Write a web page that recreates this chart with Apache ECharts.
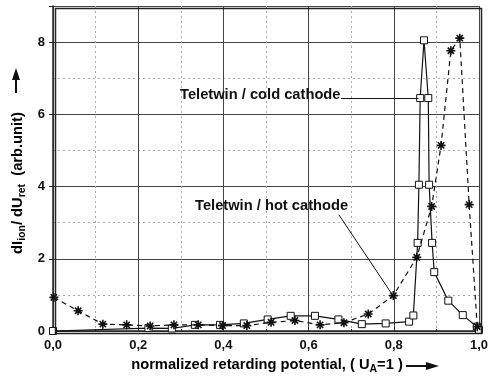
<!DOCTYPE html>
<html>
<head>
<meta charset="utf-8">
<script src="https://cdn.jsdelivr.net/npm/echarts@6/dist/echarts.min.js"></script>
<style>
  html, body { margin: 0; padding: 0; background: #fff; }
  #chart { width: 491px; height: 377px; }
</style>
</head>
<body>
<div id="chart"></div>
<script>
// cold cathode (open squares, solid line)
const coldX = [0.0, 0.224, 0.279, 0.333, 0.392, 0.448, 0.504, 0.558, 0.615, 0.670, 0.725, 0.781, 0.836, 0.846, 0.856, 0.859, 0.862, 0.871, 0.881, 0.883, 0.890, 0.895, 0.928, 0.962, 0.995, 1.0];
const coldY = [0.0, 0.08, 0.07, 0.17, 0.17, 0.21, 0.32, 0.42, 0.42, 0.32, 0.19, 0.21, 0.26, 0.43, 2.44, 4.05, 6.45, 8.05, 6.45, 4.05, 2.44, 1.63, 0.84, 0.44, 0.12, 0.03];
// hot cathode (asterisks, dashed line)
const hotX = [0.002, 0.059, 0.117, 0.173, 0.228, 0.284, 0.341, 0.398, 0.455, 0.512, 0.568, 0.627, 0.683, 0.740, 0.799, 0.854, 0.889, 0.911, 0.934, 0.955, 0.977, 0.996];
const hotY = [0.93, 0.56, 0.19, 0.17, 0.14, 0.17, 0.17, 0.15, 0.15, 0.24, 0.29, 0.17, 0.23, 0.47, 0.98, 2.04, 3.45, 5.14, 7.76, 8.11, 3.5, 0.12];
const xTicks = [0, 0.2, 0.4, 0.6, 0.8, 1.0];
const yTicks = [0, 2, 4, 6, 8];

const FONT = '"Liberation Sans", Arial, sans-serif';
const star = 'path://M0,5L10,5M5,0L5,10M1.5,1.5L8.5,8.5M8.5,1.5L1.5,8.5';

const chart = echarts.init(document.getElementById('chart'));
const option = {
    animation: false,
    backgroundColor: '#fff',
    textStyle: { fontFamily: FONT },
    grid: { left: 53, right: 12, top: 6, bottom: 46 },
    xAxis: {
        type: 'value',
        min: 0,
        max: 1,
        interval: 0.2,
        axisLine: { show: true, onZero: false, lineStyle: { color: '#222', width: 1.5 } },
        axisTick: { show: true, inside: true, length: 4, lineStyle: { color: '#222' } },
        minorTick: { show: true, splitNumber: 2, length: 2, lineStyle: { color: '#222' } },
        splitLine: { show: true, lineStyle: { color: '#444', width: 1 } },
        minorSplitLine: { show: true, lineStyle: { color: '#aaa', type: [2, 3] } },
        axisLabel: {
            color: '#111', fontSize: 13, fontWeight: 'bold', margin: 8,
            formatter: v => xTicks.includes(Math.round(v * 10) / 10) ? v.toFixed(1).replace('.', ',') : ''
        }
    },
    yAxis: {
        type: 'value',
        min: 0,
        max: 9,
        interval: 2,
        axisLine: { show: true, lineStyle: { color: '#222', width: 1.5 } },
        axisTick: { show: true, length: 4, lineStyle: { color: '#222' } },
        minorTick: { show: false, splitNumber: 2 },
        splitLine: { show: true, lineStyle: { color: '#444', width: 1 } },
        minorSplitLine: { show: true, lineStyle: { color: '#aaa', type: [2, 3] } },
        axisLabel: {
            color: '#111', fontSize: 13, fontWeight: 'bold', margin: 8,
            formatter: v => yTicks.includes(v) ? String(v) : ''
        }
    },
    series: [
        {
            name: 'Teletwin / cold cathode',
            type: 'line',
            data: coldX.map((x, i) => [x, coldY[i]]),
            symbol: 'rect',
            symbolSize: 7,
            lineStyle: { color: '#111', width: 1.2 },
            itemStyle: { color: '#fff', borderColor: '#111', borderWidth: 1 },
            z: 3,
            markLine: {
                silent: true,
                symbol: 'none',
                label: { show: false },
                lineStyle: { color: '#111', width: 1, type: 'solid' },
                data: [
                    [{ coord: [0.676, 6.45] }, { coord: [0.858, 6.45] }],
                    [{ coord: [0.671, 3.22] }, { coord: [0.797, 1.0] }]
                ]
            }
        },
        {
            name: 'Teletwin / hot cathode',
            type: 'line',
            data: hotX.map((x, i) => [x, hotY[i]]),
            symbol: star,
            symbolSize: 9,
            lineStyle: { color: '#111', width: 1.2, type: [5, 4] },
            itemStyle: { color: '#111', borderColor: '#111', borderWidth: 1.6 },
            z: 4
        }
    ],
    graphic: [
        {
            type: 'rect', left: 53, top: 6, z: 10, silent: true,
            shape: { width: 426, height: 325 },
            style: { fill: 'none', stroke: '#222', lineWidth: 1.5 }
        },
        {
            type: 'text', x: 180, y: 95, z: 20,
            style: { text: 'Teletwin / cold cathode', font: 'bold 14.7px ' + FONT, fill: '#111', textVerticalAlign: 'middle' }
        },
        {
            type: 'text', x: 195, y: 206, z: 20,
            style: { text: 'Teletwin / hot cathode', font: 'bold 14.7px ' + FONT, fill: '#111', textVerticalAlign: 'middle' }
        },
        {
            type: 'text', x: 18, y: 183, rotation: Math.PI / 2, z: 20,
            style: {
                text: '{b|dI}{s|ion}{b|/ dU}{s|ret}{b|  (arb.unit)}',
                textAlign: 'center', textVerticalAlign: 'middle',
                rich: {
                    b: { fontSize: 14.7, fontWeight: 'bold', fontFamily: FONT, color: '#111' },
                    s: { fontSize: 10.5, fontWeight: 'bold', fontFamily: FONT, color: '#111', padding: [9, 0, 0, 0] }
                }
            }
        },
        {
            type: 'line', z: 20,
            shape: { x1: 16, y1: 93, x2: 16, y2: 78 },
            style: { stroke: '#111', lineWidth: 2 }
        },
        {
            type: 'polygon', z: 20,
            shape: { points: [[12, 80], [20, 80], [16, 68]] },
            style: { fill: '#111' }
        },
        {
            type: 'text', x: 267, y: 365, z: 20,
            style: {
                text: '{b|normalized retarding potential, ( U}{s|A}{b|=1 )}',
                textAlign: 'center', textVerticalAlign: 'middle',
                rich: {
                    b: { fontSize: 14.7, fontWeight: 'bold', fontFamily: FONT, color: '#111' },
                    s: { fontSize: 10.5, fontWeight: 'bold', fontFamily: FONT, color: '#111', padding: [9, 0, 0, 0] }
                }
            }
        },
        {
            type: 'line', z: 20,
            shape: { x1: 406, y1: 366, x2: 428, y2: 366 },
            style: { stroke: '#111', lineWidth: 2 }
        },
        {
            type: 'polygon', z: 20,
            shape: { points: [[426, 362], [426, 370], [439, 366]] },
            style: { fill: '#111' }
        }
    ]
};
chart.setOption(option);
</script>
</body>
</html>
